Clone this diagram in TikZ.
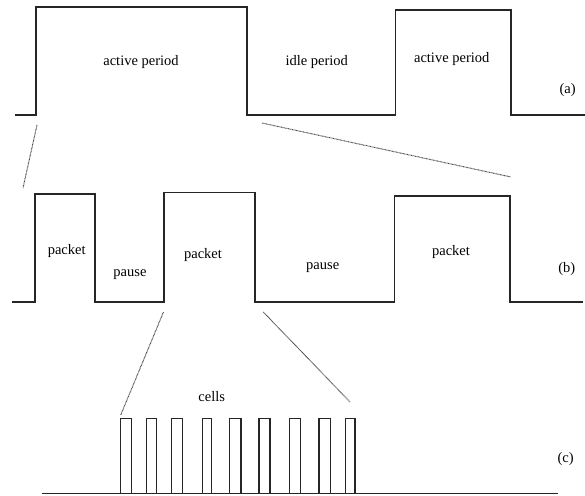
\documentclass[tikz,border=0pt]{standalone}
\usepackage{fontspec}
\setmainfont{Liberation Serif}
\begin{document}
\begin{tikzpicture}[x=1pt,y=-1pt,
  sig/.style={draw=black!85,line width=1.1pt,line join=miter},
  zoomline/.style={draw=black!70,line width=1pt,dash pattern=on 0.8pt off 0.6pt},
  lbl/.style={inner sep=0pt,font=\fontsize{14.5}{16}\selectfont}]
\useasboundingbox (0,0) rectangle (585,495);
% (a)
\draw[sig] (15,115) -- (36,115) -- (36,7) -- (247,7) -- (247,115) -- (395.7,115) -- (395.7,10) -- (511,10) -- (511,115) -- (585,115);
\node[lbl] (ap1) at (141,62) {active period};
\node[lbl] (ip) at (316.7,62) {idle period};
\node[lbl] (ap2) at (451.7,59.5) {active period};
\node[lbl] (la) at (567.7,90) {(a)};
% (b)
\draw[sig] (12,302) -- (35,302) -- (35,194) -- (95,194) -- (95,302) -- (164,302) -- (164,192.5) -- (255,192.5) -- (255,302) -- (394.5,302) -- (394.5,196) -- (510,196) -- (510,302) -- (583,302);
\node[lbl] (p1) at (66.7,251) {packet};
\node[lbl] (ps1) at (130,275) {pause};
\node[lbl] (p2) at (203,255) {packet};
\node[lbl] (ps2) at (322.7,267.5) {pause};
\node[lbl] (p3) at (451,252) {packet};
\node[lbl] (lb) at (566.7,269.5) {(b)};
% (c)
\draw[sig] (41.7,493.5) -- (558,493.5);
\foreach \a/\b in {120.7/131.7,146.7/156.7,171.3/182.7,202.3/211.7,229.7/241,259/270,289.7/300.7,319/330.3,345.3/355}
  \draw[sig] (\a,493.5) -- (\a,418.5) -- (\b,418.5) -- (\b,493.5);
\node[lbl] (cells) at (211.7,396.7) {cells};
\node[lbl] (lc) at (565.7,459) {(c)};
% zoom lines
\coordinate (z1a) at (37,125);
\coordinate (z1b) at (23,188);
\coordinate (z2a) at (262,123);
\coordinate (z2b) at (511,177);
\coordinate (z3a) at (163.5,312);
\coordinate (z3b) at (120.7,415);
\coordinate (z4a) at (263.3,312);
\coordinate (z4b) at (350,402);
\draw[zoomline] (z1a) -- (z1b);
\draw[zoomline] (z2a) -- (z2b);
\draw[zoomline] (z3a) -- (z3b);
\draw[zoomline] (z4a) -- (z4b);
\end{tikzpicture}
\end{document}
